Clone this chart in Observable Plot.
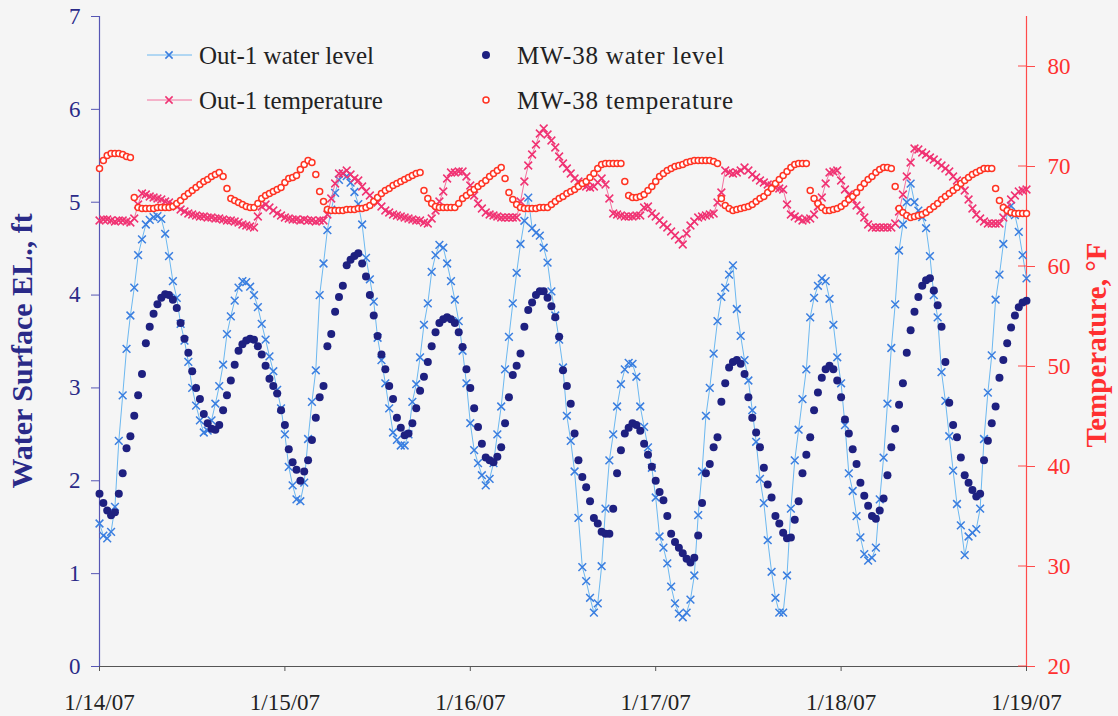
<!DOCTYPE html>
<html>
<head>
<meta charset="utf-8">
<script src="https://cdn.jsdelivr.net/npm/d3@7"></script>
<script src="https://cdn.jsdelivr.net/npm/@observablehq/plot@0.6"></script>
<style>
  html, body { margin: 0; padding: 0; background: #f5f5f5; }
  #chart { width: 1118px; height: 716px; position: relative; }
  svg { display: block; }
</style>
</head>
<body>
<div id="chart"></div>
<script>
// ---------------- data (30-minute readings from 1/14/07 00:00) ----------------
const startTime = Date.UTC(2007, 0, 14, 0, 0);
const stepMinutes = 30;

const out1Level = [
  1.54,1.41,1.38,1.45,1.72,2.43,2.92,3.42,3.78,4.08,
  4.43,4.60,4.76,4.81,4.84,4.85,4.82,4.66,4.42,4.15,
  3.97,3.69,3.51,3.28,3.00,2.81,2.65,2.52,2.54,2.65,
  2.83,3.02,3.25,3.58,3.77,3.94,4.08,4.15,4.14,4.09,
  4.00,3.87,3.69,3.52,3.34,3.18,2.98,2.78,2.50,2.15,
  1.95,1.80,1.78,1.98,2.45,2.85,3.19,4.00,4.34,4.70,
  4.92,5.10,5.24,5.31,5.28,5.21,5.11,4.98,4.76,4.40,
  4.17,3.93,3.54,3.30,3.05,2.78,2.52,2.44,2.38,2.38,
  2.50,2.85,3.04,3.33,3.68,3.91,4.25,4.43,4.54,4.51,
  4.34,4.15,3.95,3.72,3.40,3.05,2.62,2.33,2.19,2.06,
  1.95,2.02,2.19,2.50,2.80,3.20,3.55,3.91,4.24,4.55,
  4.80,5.05,4.72,4.67,4.64,4.51,4.35,4.04,3.78,3.52,
  3.22,2.70,2.43,2.10,1.60,1.07,0.92,0.74,0.58,0.68,
  1.08,1.70,2.22,2.50,2.80,3.04,3.20,3.27,3.26,3.12,
  2.80,2.58,2.36,2.14,1.82,1.40,1.28,1.11,0.86,0.68,
  0.57,0.53,0.58,0.72,0.98,1.63,2.10,2.70,3.00,3.37,
  3.72,3.98,4.08,4.22,4.32,3.85,3.56,3.30,3.08,2.76,
  2.42,2.02,1.76,1.36,1.02,0.74,0.58,0.58,0.98,1.70,
  2.22,2.55,2.88,3.20,3.76,3.97,4.10,4.18,4.15,3.96,
  3.68,3.33,3.05,2.60,2.08,1.89,1.62,1.39,1.21,1.14,
  1.17,1.28,1.80,2.25,2.83,3.43,3.90,4.48,4.76,5.00,
  5.20,5.00,4.91,4.84,4.72,4.42,4.00,3.76,3.17,2.86,
  2.48,2.11,1.75,1.52,1.20,1.40,1.44,1.48,1.70,2.45,
  2.95,3.35,3.95,4.22,4.55,4.88,4.96,4.86,4.68,4.43,
  4.18
];

const mw38Level = [
  1.86,1.76,1.68,1.63,1.66,1.86,2.08,2.35,2.48,2.70,
  2.92,3.15,3.48,3.66,3.80,3.90,3.97,4.01,4.00,3.95,
  3.86,3.70,3.53,3.38,3.18,3.00,2.88,2.72,2.62,2.56,
  2.55,2.60,2.76,2.92,3.08,3.25,3.40,3.47,3.51,3.53,
  3.52,3.45,3.36,3.24,3.10,3.02,2.94,2.76,2.60,2.34,
  2.20,2.12,2.00,2.10,2.22,2.44,2.68,2.90,3.02,3.45,
  3.58,3.82,3.98,4.10,4.32,4.38,4.42,4.45,4.34,4.20,
  4.00,3.78,3.56,3.36,3.20,3.02,2.88,2.68,2.57,2.49,
  2.51,2.62,2.78,2.97,3.12,3.28,3.45,3.60,3.70,3.74,
  3.76,3.74,3.70,3.60,3.44,3.20,3.00,2.78,2.58,2.40,
  2.25,2.22,2.20,2.26,2.36,2.62,2.90,3.14,3.24,3.37,
  3.66,3.84,3.92,4.00,4.04,4.04,3.97,3.88,3.76,3.55,
  3.19,3.02,2.83,2.51,2.22,2.04,1.93,1.78,1.60,1.54,
  1.45,1.43,1.43,1.70,2.08,2.33,2.51,2.57,2.62,2.60,
  2.54,2.40,2.28,2.15,2.00,1.88,1.79,1.62,1.43,1.34,
  1.28,1.22,1.16,1.12,1.17,1.41,1.76,2.08,2.18,2.36,
  2.47,2.85,3.05,3.22,3.28,3.30,3.26,3.15,2.90,2.68,
  2.52,2.36,2.14,1.96,1.82,1.62,1.54,1.44,1.38,1.39,
  1.58,1.78,2.08,2.28,2.47,2.76,2.95,3.11,3.20,3.24,
  3.20,3.08,2.90,2.66,2.51,2.34,2.18,1.98,1.84,1.73,
  1.62,1.59,1.68,1.81,2.06,2.36,2.56,2.82,3.05,3.38,
  3.62,3.82,3.98,4.10,4.16,4.18,4.05,3.89,3.66,3.28,
  2.84,2.60,2.47,2.25,2.06,1.98,1.90,1.83,1.86,2.22,
  2.43,2.62,2.80,3.11,3.30,3.48,3.65,3.78,3.87,3.92,
  3.94
];

const out1Temp = [
  64.6,64.7,64.7,64.6,64.5,64.6,64.6,64.5,64.4,64.8,
  66.2,67.3,67.2,67.0,66.9,66.8,66.7,66.5,66.4,66.2,
  66.0,65.7,65.5,65.3,65.2,65.1,65.0,65.0,64.9,64.9,
  64.8,64.8,64.7,64.6,64.6,64.5,64.4,64.2,64.1,64.0,
  63.9,65.0,66.0,66.2,65.9,65.6,65.3,65.1,64.9,64.8,
  64.7,64.7,64.6,64.7,64.6,64.6,64.5,64.6,64.6,65.2,
  66.8,68.3,69.3,69.3,69.6,69.2,68.8,68.6,68.0,67.5,
  67.1,66.7,66.4,66.0,65.6,65.4,65.2,65.1,65.0,64.9,
  64.8,64.7,64.6,64.6,64.4,64.3,64.8,65.6,66.5,67.5,
  68.8,69.4,69.4,69.5,69.5,69.0,68.1,67.1,66.3,65.8,
  65.4,65.2,65.1,65.0,64.9,64.9,64.9,64.9,64.9,66.5,
  68.5,70.1,71.2,72.2,73.3,73.8,73.2,72.6,71.9,71.0,
  70.3,69.8,69.3,68.8,68.5,68.2,68.0,67.9,68.0,68.4,
  68.8,68.2,66.8,65.3,65.2,65.1,65.0,65.0,65.0,65.1,
  65.1,65.9,66.0,65.3,65.0,64.6,64.2,63.9,63.5,63.1,
  62.7,62.2,63.3,64.1,64.5,64.9,65.0,65.1,65.2,65.3,
  66.4,67.4,69.6,69.4,69.3,69.4,69.6,69.9,69.6,69.2,
  68.9,68.6,68.4,68.2,68.1,67.9,67.8,67.7,66.2,65.2,
  65.0,64.8,64.6,64.7,64.8,65.2,66.0,66.9,68.3,69.4,
  69.5,69.6,68.6,67.7,67.2,66.7,66.1,65.6,64.9,64.2,
  63.9,63.9,63.9,63.9,63.9,63.9,64.3,65.5,67.2,69.0,
  70.4,71.8,71.7,71.4,71.2,70.9,70.7,70.4,70.1,69.8,
  69.5,69.0,68.6,68.1,67.6,66.7,65.8,65.2,64.8,64.5,
  64.3,64.3,64.3,64.3,64.9,65.9,66.7,67.1,67.5,67.6,
  67.7
];

const mw38Temp = [
  69.8,70.6,71.1,71.3,71.3,71.3,71.2,71.0,70.9,66.9,
  65.9,65.8,65.8,65.8,65.8,65.9,65.9,65.9,65.9,66.0,
  66.3,66.6,67.0,67.3,67.6,67.9,68.2,68.5,68.7,69.0,
  69.2,69.4,69.0,67.8,66.8,66.6,66.4,66.2,66.0,65.9,
  65.9,66.3,66.8,67.1,67.3,67.5,67.7,67.9,68.4,68.8,
  68.9,69.1,69.7,70.2,70.6,70.4,69.2,67.5,66.5,65.7,
  65.6,65.6,65.6,65.6,65.7,65.7,65.7,65.8,65.8,65.9,
  66.1,66.5,66.9,67.3,67.6,67.8,68.1,68.3,68.5,68.7,
  68.9,69.1,69.3,69.4,67.6,66.8,66.3,66.0,65.9,65.9,
  65.9,65.9,65.9,66.3,66.8,67.1,67.4,67.7,68.0,68.3,
  68.6,69.0,69.3,69.6,69.9,68.8,67.4,66.7,66.2,65.9,
  65.8,65.8,65.8,65.8,65.9,65.9,65.9,66.2,66.5,66.8,
  67.0,67.3,67.5,67.7,68.0,68.3,68.5,68.9,69.3,69.8,
  70.2,70.3,70.3,70.3,70.3,70.3,68.5,67.1,66.9,66.9,
  67.0,67.2,67.6,68.0,68.5,69.0,69.3,69.6,69.8,70.0,
  70.1,70.2,70.4,70.5,70.6,70.6,70.6,70.6,70.6,70.5,
  70.3,66.8,66.1,65.8,65.6,65.7,65.8,65.9,66.0,66.2,
  66.5,66.8,67.0,67.4,67.8,68.3,68.7,69.1,69.5,69.9,
  70.2,70.3,70.3,70.3,67.6,66.8,66.3,65.9,65.6,65.6,
  65.7,65.8,66.0,66.3,66.7,67.0,67.4,67.9,68.3,68.7,
  69.0,69.4,69.7,69.9,69.9,69.8,68.0,65.8,65.4,65.1,
  64.9,65.0,65.1,65.2,65.4,65.7,66.0,66.3,66.7,67.0,
  67.3,67.6,67.9,68.3,68.6,68.9,69.2,69.4,69.6,69.8,
  69.8,69.8,67.8,66.6,65.9,65.6,65.4,65.3,65.3,65.3,
  65.3
];

const levelTicks = [0, 1, 2, 3, 4, 5, 6, 7];
const tempTicks = [20, 30, 40, 50, 60, 70, 80];
const levelDomain = [0, 7];
const tempDomain = [20, 85];
const dayTicks = [Date.UTC(2007,0,14), Date.UTC(2007,0,15), Date.UTC(2007,0,16),
                  Date.UTC(2007,0,17), Date.UTC(2007,0,18), Date.UTC(2007,0,19)];
const dayLabels = ["1/14/07", "1/15/07", "1/16/07", "1/17/07", "1/18/07", "1/19/07"];
const seriesNames = ["Out-1 water level", "MW-38 water level", "Out-1 temperature", "MW-38 temperature"];
const leftTitle = "Water Surface EL., ft";
const rightTitle = "Temperature, \u00B0F";

// ---------------- helpers ----------------
const span = (levelDomain[1] - levelDomain[0]) / (tempDomain[1] - tempDomain[0]);
const toLevel = t => levelDomain[0] + (t - tempDomain[0]) * span;
const fromLevel = v => tempDomain[0] + (v - levelDomain[0]) / span;
const rows = (arr, f = v => v) => arr.map((v, i) => ({
  date: new Date(startTime + i * stepMinutes * 60000), value: f(v)
}));
const dayDates = dayTicks.map(t => new Date(t));
const labelOf = d => dayLabels[dayTicks.indexOf(+d)];

const out1LevelRows = rows(out1Level);
const mw38LevelRows = rows(mw38Level);
const out1TempRows = rows(out1Temp, toLevel);
const mw38TempRows = rows(mw38Temp, toLevel);

const C = {
  out1Line: "#6cb8f0", out1Mark: "#3a7ee0",
  mw38: "#1e2080",
  tLine: "#f4709e", tMark: "#f03272",
  mwT: "#ff3322",
  leftAxis: "#5656b4", leftText: "#2a2a88",
  rightAxis: "#ff4a4a", rightText: "#ff3030",
  xAxis: "#555", xText: "#222"
};
const FONT = "'Liberation Serif', 'Times New Roman', serif";

const chart = Plot.plot({
  width: 1118, height: 716,
  marginLeft: 99, marginRight: 92, marginTop: 16, marginBottom: 50,
  style: { background: "transparent", fontFamily: FONT, fontSize: "23px", overflow: "visible" },
  x: { type: "utc", domain: [dayDates[0], dayDates[5]], label: null },
  y: { domain: levelDomain, label: null },
  marks: [
    Plot.axisX(dayDates, { tickSize: 5, tickPadding: 22, tickFormat: labelOf, stroke: C.xAxis, fill: C.xText, fontSize: 23, label: null }),
    Plot.axisY(levelTicks, { anchor: "left", tickSize: 8, tickPadding: 11, tickFormat: d => String(d), stroke: C.leftAxis, fill: C.leftText, fontSize: 23, label: null }),
    Plot.axisY(tempTicks.map(toLevel), { anchor: "right", tickSize: 8, tickPadding: 13, tickFormat: d => String(Math.round(fromLevel(d))), stroke: C.rightAxis, fill: C.rightText, fontSize: 23, label: null }),
    Plot.ruleX([dayDates[0]], { stroke: C.leftAxis, strokeWidth: 1.2 }),
    Plot.ruleX([dayDates[5]], { stroke: C.rightAxis, strokeWidth: 1.2 }),
    Plot.ruleY([levelDomain[0]], { stroke: C.xAxis, strokeWidth: 1.2 }),
    Plot.line(out1LevelRows, { x: "date", y: "value", stroke: C.out1Line, strokeWidth: 1 }),
    Plot.dot(out1LevelRows, { x: "date", y: "value", symbol: "times", r: 3.6, stroke: C.out1Mark, strokeWidth: 1.5 }),
    Plot.dot(mw38LevelRows, { x: "date", y: "value", r: 4, fill: C.mw38, stroke: null }),
    Plot.line(out1TempRows, { x: "date", y: "value", stroke: C.tLine, strokeWidth: 1 }),
    Plot.dot(out1TempRows, { x: "date", y: "value", symbol: "times", r: 3.6, stroke: C.tMark, strokeWidth: 1.5 }),
    Plot.dot(mw38TempRows, { x: "date", y: "value", r: 3, fill: "white", stroke: C.mwT, strokeWidth: 1.5 })
  ]
});

document.getElementById("chart").appendChild(chart);

// ---------- extras: inner half of right-axis ticks, titles, legend ----------
const svg = d3.select(chart);
const ys = chart.scale("y"), xs = chart.scale("x");
const xRight = xs.apply(dayDates[5]);
svg.append("g").selectAll("line").data(tempTicks).join("line")
  .attr("x1", xRight - 8).attr("x2", xRight)
  .attr("y1", d => ys.apply(toLevel(d))).attr("y2", d => ys.apply(toLevel(d)))
  .attr("stroke", C.rightAxis);

svg.append("text").text(leftTitle)
  .attr("transform", `translate(32, ${351}) rotate(-90)`)
  .attr("text-anchor", "middle").attr("font-family", FONT).attr("font-weight", "bold")
  .attr("font-size", 30).attr("fill", C.leftText);
svg.append("text").text(rightTitle)
  .attr("transform", `translate(1106, ${345}) rotate(-90)`)
  .attr("text-anchor", "middle").attr("font-family", FONT).attr("font-weight", "bold")
  .attr("font-size", 29).attr("fill", C.rightText);

const lg = svg.append("g").attr("font-family", FONT).attr("font-size", 25)
  .attr("fill", "#222").attr("text-anchor", "start");
const cross = (g, cx, cy, col) => {
  const s = 3.6;
  g.append("path").attr("d", `M${cx-s},${cy-s}L${cx+s},${cy+s}M${cx-s},${cy+s}L${cx+s},${cy-s}`)
    .attr("stroke", col).attr("stroke-width", 1.5).attr("fill", "none");
};
// Out-1 water level
lg.append("line").attr("x1", 147).attr("x2", 192).attr("y1", 55).attr("y2", 55).attr("stroke", C.out1Line);
cross(lg, 169, 55, C.out1Mark);
lg.append("text").attr("x", 199).attr("y", 63.5).attr("text-anchor", "start").text(seriesNames[0]);
// Out-1 temperature
lg.append("line").attr("x1", 147).attr("x2", 192).attr("y1", 100).attr("y2", 100).attr("stroke", C.tLine);
cross(lg, 169, 100, C.tMark);
lg.append("text").attr("x", 199).attr("y", 108.5).attr("text-anchor", "start").text(seriesNames[2]);
// MW-38 water level
lg.append("circle").attr("cx", 486).attr("cy", 55).attr("r", 4).attr("fill", C.mw38);
lg.append("text").attr("x", 517).attr("y", 63.5).attr("text-anchor", "start").attr("letter-spacing", 0.8).text(seriesNames[1]);
// MW-38 temperature
lg.append("circle").attr("cx", 486).attr("cy", 100).attr("r", 3).attr("fill", "white").attr("stroke", C.mwT).attr("stroke-width", 1.5);
lg.append("text").attr("x", 517).attr("y", 108.5).attr("text-anchor", "start").attr("letter-spacing", 0.8).text(seriesNames[3]);
</script>
</body>
</html>
